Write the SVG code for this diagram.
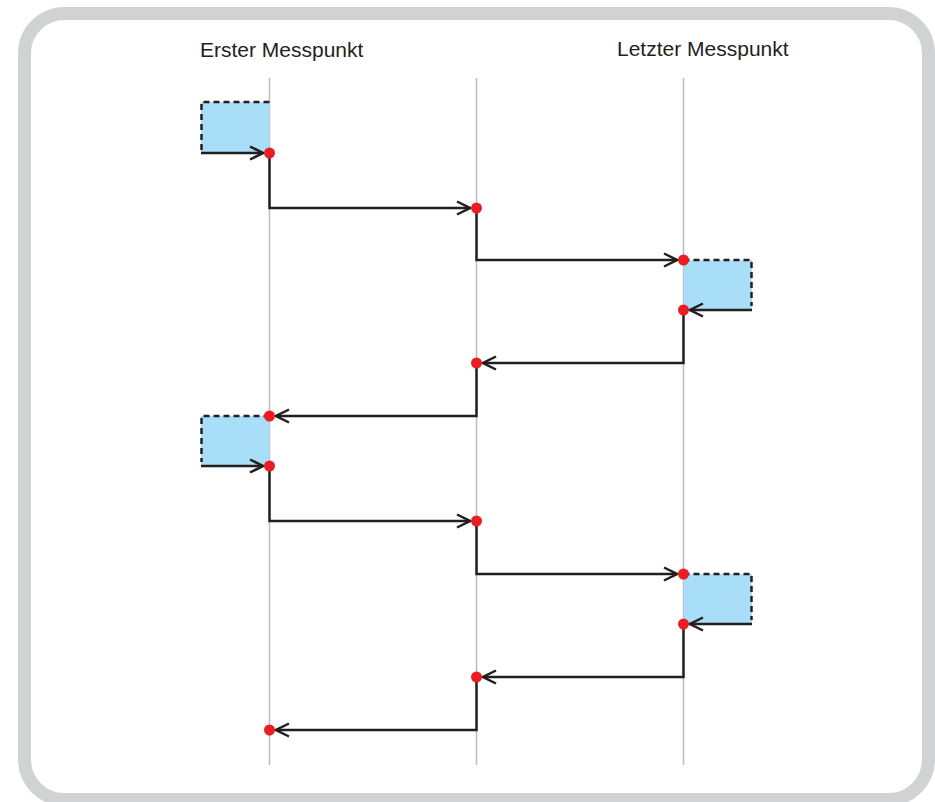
<svg xmlns="http://www.w3.org/2000/svg" width="935" height="802" viewBox="0 0 935 802">
<style>
.frame{fill:#ffffff;stroke:#d1d2d4;stroke-width:13}
.axis{stroke:#bdbdbd;stroke-width:1.5;fill:none}
.box{fill:#a8def8;stroke:none}
.dash{fill:none;stroke:#231f20;stroke-width:2.5;stroke-dasharray:6,4}
.conn{fill:none;stroke:#231f20;stroke-width:2.5;marker-end:url(#arr)}
.dot{fill:#ec1c24}
.lbl{font-family:"Liberation Sans",Arial,sans-serif;font-size:21px;fill:#231f20}
</style>
<defs>
<marker id="arr" viewBox="0 0 16 16" refX="14" refY="8" markerWidth="16" markerHeight="16" markerUnits="userSpaceOnUse" orient="auto">
<path d="M1,1.5 L14,8 L1,14.5" fill="none" stroke="#231f20" stroke-width="2.5"/>
</marker>
</defs>
<rect class="frame" x="24.5" y="13.5" width="904" height="786" rx="40" ry="40"/>
<text class="lbl" x="200" y="57">Erster Messpunkt</text>
<text class="lbl" x="617" y="56">Letzter Messpunkt</text>
<g id="axes">
<line class="axis" x1="269.5" y1="78" x2="269.5" y2="765"/>
<line class="axis" x1="476.5" y1="78" x2="476.5" y2="765"/>
<line class="axis" x1="683.5" y1="78" x2="683.5" y2="765"/>
</g>
<g id="box1">
<rect class="box" x="201" y="102" width="68.5" height="51"/>
<path class="dash" d="M269.5,102 H201.5 V150"/>
</g>
<g id="box2">
<rect class="box" x="683.5" y="260" width="68.5" height="50"/>
<path class="dash" d="M683.5,260 H751.5 V306"/>
</g>
<g id="box3">
<rect class="box" x="201" y="416" width="68.5" height="50"/>
<path class="dash" d="M269.5,416 H201.5 V462"/>
</g>
<g id="box4">
<rect class="box" x="683.5" y="574" width="68.5" height="50"/>
<path class="dash" d="M683.5,574 H751.5 V620"/>
</g>
<g id="connectors">
<path class="conn" d="M201,153 H263"/>
<path class="conn" d="M269.5,153 V208 H470"/>
<path class="conn" d="M476.5,208 V260 H677"/>
<path class="conn" d="M752,310 H690"/>
<path class="conn" d="M683.5,310 V363 H483"/>
<path class="conn" d="M476.5,363 V416 H276"/>
<path class="conn" d="M201,466 H263"/>
<path class="conn" d="M269.5,466 V521 H470"/>
<path class="conn" d="M476.5,521 V574 H677"/>
<path class="conn" d="M752,624 H690"/>
<path class="conn" d="M683.5,624 V677 H483"/>
<path class="conn" d="M476.5,677 V730 H276"/>
</g>
<g id="points">
<circle class="dot" cx="269.5" cy="153" r="5.5"/>
<circle class="dot" cx="476.5" cy="208" r="5.5"/>
<circle class="dot" cx="683.5" cy="260" r="5.5"/>
<circle class="dot" cx="683.5" cy="310" r="5.5"/>
<circle class="dot" cx="476.5" cy="363" r="5.5"/>
<circle class="dot" cx="269.5" cy="416" r="5.5"/>
<circle class="dot" cx="269.5" cy="466" r="5.5"/>
<circle class="dot" cx="476.5" cy="521" r="5.5"/>
<circle class="dot" cx="683.5" cy="574" r="5.5"/>
<circle class="dot" cx="683.5" cy="624" r="5.5"/>
<circle class="dot" cx="476.5" cy="677" r="5.5"/>
<circle class="dot" cx="269.5" cy="730" r="5.5"/>
</g>
</svg>
